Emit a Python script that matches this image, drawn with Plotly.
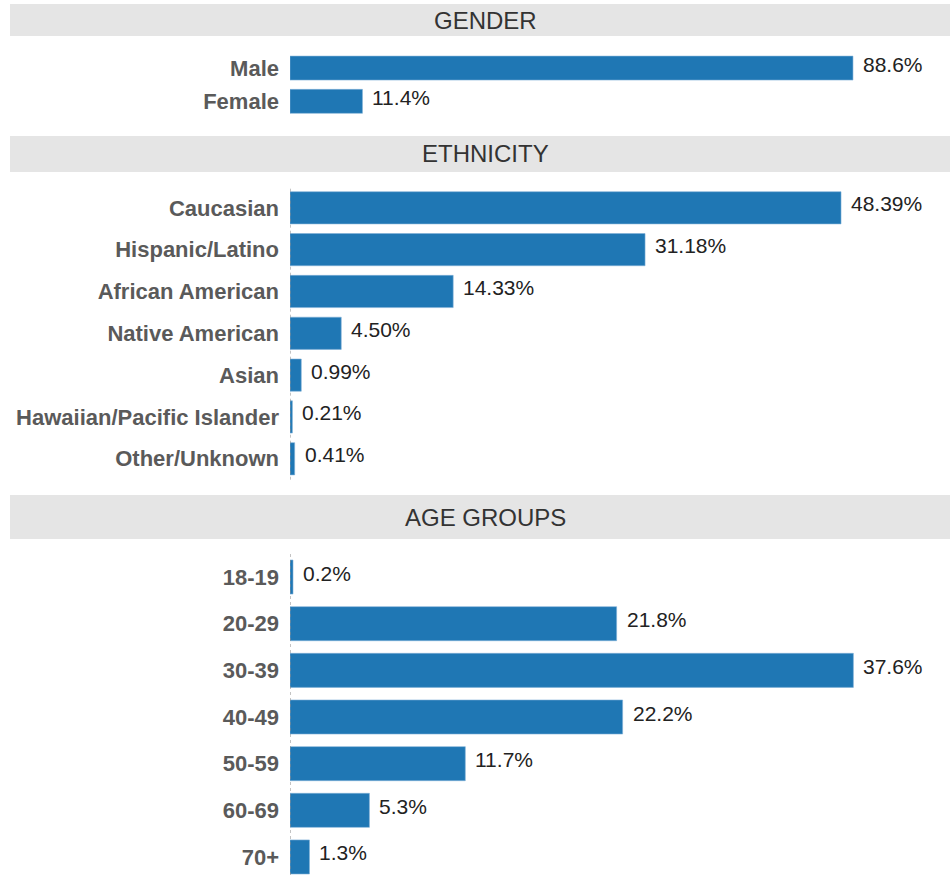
import plotly.graph_objects as go

gender_labels = ["Male", "Female"]
gender_values = [88.6, 11.4]

eth_labels = ["Caucasian", "Hispanic/Latino", "African American", "Native American",
              "Asian", "Hawaiian/Pacific Islander", "Other/Unknown"]
eth_values = [48.39, 31.18, 14.33, 4.50, 0.99, 0.21, 0.41]

age_labels = ["18-19", "20-29", "30-39", "40-49", "50-59", "60-69", "70+"]
age_values = [0.2, 21.8, 37.6, 22.2, 11.7, 5.3, 1.3]

section_titles = ["GENDER", "ETHNICITY", "AGE GROUPS"]

W, H = 950, 875
BAR = "#1f77b4"
FONT = "Arial, Liberation Sans, sans-serif"

def py(p):
    return 1 - p / H

fig = go.Figure()
annotations = []

panels = [
    (gender_labels, gender_values, 1, 0.28, (51.45, 118.85), 103.87, None, ""),
    (eth_labels, eth_values, 2, 0.23, (186.9, 479.7), 57.96, None, "2"),
    (age_labels, age_values, 1, 0.27, (553.7, 875), 44.05, [6.386, -0.5], "3"),
]

xdom = [290 / W, 1]
for labs, vals, dec, gap, (top, bot), xmax, yrange, s in panels:
    fig.add_trace(go.Bar(
        y=labs, x=vals, orientation="h", width=1 - gap,
        marker=dict(color=BAR, line=dict(color="#7fb0d6", width=0.6)),
        hoverinfo="skip", xaxis="x" + s, yaxis="y" + s, showlegend=False,
    ))
    for lab, v in zip(labs, vals):
        annotations.append(dict(
            x=v, y=lab, xref="x" + s, yref="y" + s, text=f"{v:.{dec}f}%",
            xanchor="left", yanchor="middle", xshift=8, yshift=4, showarrow=False,
            font=dict(family=FONT, size=21, color="#222222")))
    xa = dict(domain=xdom, range=[0, xmax], visible=False, fixedrange=True,
              anchor="y" + s)
    ya = dict(domain=[py(bot), py(top)], anchor="x" + s, type="category",
              showgrid=False, zeroline=False, showline=False, ticks="",
              ticklabelstandoff=10, fixedrange=True,
              tickfont=dict(family=FONT, size=22, color="#5a5a5a", weight="bold"))
    if yrange is not None:
        ya["range"] = yrange
    else:
        ya["autorange"] = "reversed"
    fig.update_layout(**{"xaxis" + s: xa, "yaxis" + s: ya})

# header bands
bands = [(4, 36, 20), (136, 172, 154), (495, 539, 517)]
shapes = []
for (t0, t1, tc), title in zip(bands, section_titles):
    shapes.append(dict(type="rect", xref="paper", yref="paper", x0=10 / W, x1=1,
                       y0=py(t1), y1=py(t0), fillcolor="#e5e5e5", line=dict(width=0),
                       layer="below"))
    annotations.append(dict(text=title, xref="paper", yref="paper", x=485 / W, y=py(tc),
                            xanchor="center", yanchor="middle", showarrow=False,
                            font=dict(family=FONT, size=24, color="#333333")))

# dotted axis lines for ethnicity and age panels
for s in ["2", "3"]:
    shapes.append(dict(type="line", xref="x" + s, yref="y" + s + " domain",
                       x0=0, x1=0, y0=0, y1=1,
                       line=dict(color="#888888", width=1, dash="dot")))

fig.update_layout(
    width=W, height=H,
    margin=dict(l=0, r=0, t=0, b=0),
    paper_bgcolor="white", plot_bgcolor="white",
    shapes=shapes, annotations=annotations,
    font=dict(family=FONT),
)

fig.write_html("out.html", config={"displayModeBar": False},
               post_script="document.body.style.margin='0';")
